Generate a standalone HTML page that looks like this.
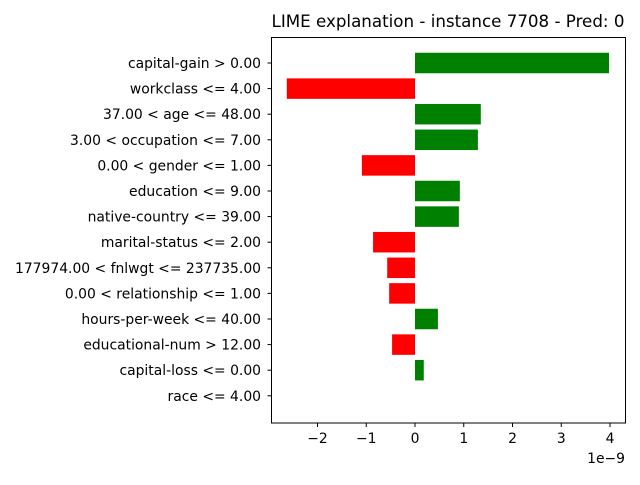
<!DOCTYPE html>
<html><head><meta charset="utf-8"><style>
body{margin:0;background:#fff}
svg text{font-family:"DejaVu Sans","Liberation Sans",sans-serif}
</style></head><body>
<svg id="chart" width="640" height="480" xmlns="http://www.w3.org/2000/svg">
<rect width="640" height="480" fill="#fff"/>
<text x="448" y="27" font-size="16.7" text-anchor="middle">LIME explanation - instance 7708 - Pred: 0</text>
<g id="bars"></g>
<g id="yticks"></g>
<g id="xticks"></g>
<rect x="271.5" y="37.5" width="354" height="385.5" fill="none" stroke="#000" stroke-width="1"/>
<text x="625" y="463" font-size="13.9" text-anchor="end">1e−9</text>
</svg>
<script>
const features = ["capital-gain > 0.00","workclass <= 4.00","37.00 < age <= 48.00","3.00 < occupation <= 7.00","0.00 < gender <= 1.00","education <= 9.00","native-country <= 39.00","marital-status <= 2.00","177974.00 < fnlwgt <= 237735.00","0.00 < relationship <= 1.00","hours-per-week <= 40.00","educational-num > 12.00","capital-loss <= 0.00","race <= 4.00"];
const weights = [3.98,-2.63,1.35,1.29,-1.09,0.92,0.90,-0.86,-0.57,-0.53,0.47,-0.47,0.18,0];
const xTicks = [-2,-1,0,1,2,3,4];
const xTickLabels = ["−2","−1","0","1","2","3","4"];
const NS="http://www.w3.org/2000/svg";
const x = v => 415 + v*48.75;
const y = i => 63 + i*25.6;
const bars=document.getElementById('bars'), yt=document.getElementById('yticks'), xt=document.getElementById('xticks');
features.forEach((f,i)=>{
  const w=weights[i];
  const r=document.createElementNS(NS,'rect');
  r.setAttribute('x',Math.min(x(0),x(w)));
  r.setAttribute('y',y(i)-10.25);
  r.setAttribute('width',Math.abs(x(w)-x(0)));
  r.setAttribute('height',20.5);
  r.setAttribute('fill',w>0?'#008000':'#ff0000');
  
  
  bars.appendChild(r);
  const l=document.createElementNS(NS,'line');
  l.setAttribute('x1',267.5);l.setAttribute('x2',271.5);
  l.setAttribute('y1',y(i));l.setAttribute('y2',y(i));
  l.setAttribute('stroke','#000');
  yt.appendChild(l);
  const t=document.createElementNS(NS,'text');
  t.setAttribute('x',261);t.setAttribute('y',y(i)+5);
  t.setAttribute('font-size','13.9');t.setAttribute('text-anchor','end');
  t.textContent=f;
  
  
  yt.appendChild(t);
});
xTicks.forEach((v,i)=>{
  const l=document.createElementNS(NS,'line');
  l.setAttribute('x1',x(v));l.setAttribute('x2',x(v));
  l.setAttribute('y1',423);l.setAttribute('y2',427);
  l.setAttribute('stroke','#000');
  xt.appendChild(l);
  const t=document.createElementNS(NS,'text');
  t.setAttribute('x',x(v));t.setAttribute('y',443);
  t.setAttribute('font-size','13.9');t.setAttribute('text-anchor','middle');
  t.textContent=xTickLabels[i];
  
  
  xt.appendChild(t);
});
</script>
</body></html>
